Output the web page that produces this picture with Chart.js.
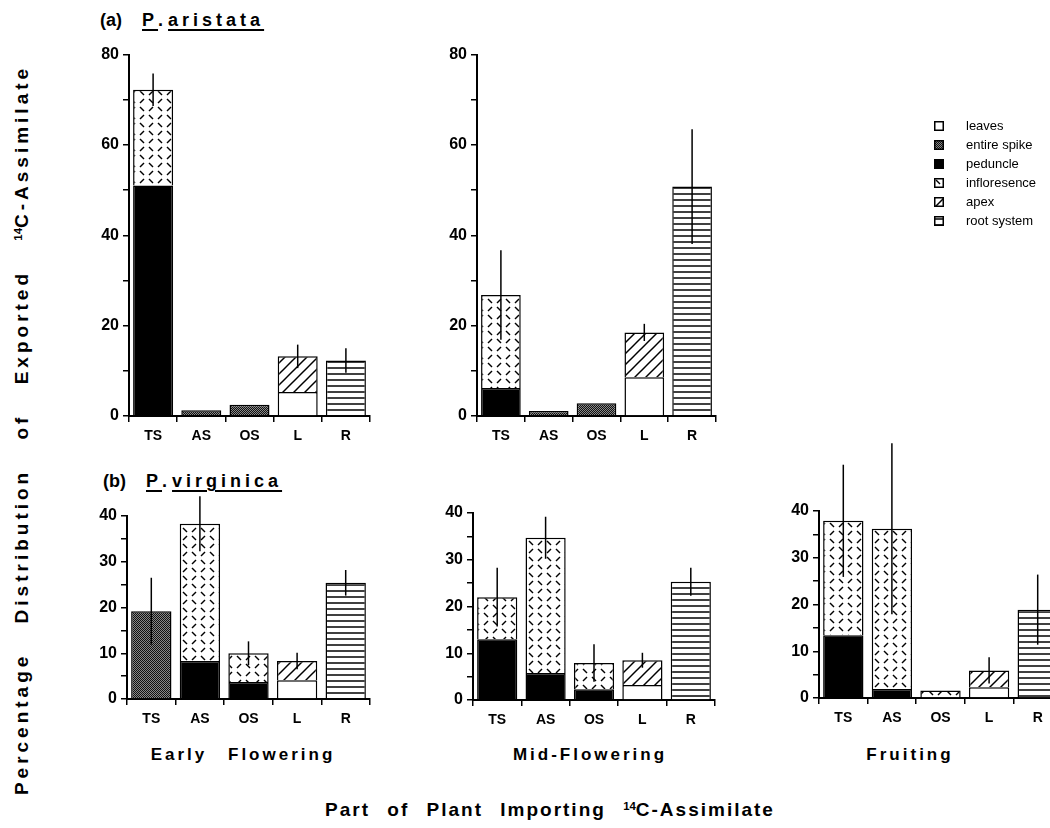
<!DOCTYPE html>
<html>
<head>
<meta charset="utf-8">
<script src="https://cdn.jsdelivr.net/npm/chart.js@4.4.0/dist/chart.umd.min.js"></script>
<style>
  html, body { margin: 0; padding: 0; background: #fff; }
  body { width: 1050px; height: 828px; position: relative; overflow: hidden;
         font-family: "Liberation Sans", Arial, sans-serif; color: #000; }
  .panel { position: absolute; }
  .txt { position: absolute; font-weight: bold; white-space: nowrap; transform: translate(-50%, -50%); }
  .title { position: absolute; font-weight: bold; font-size: 18px; white-space: nowrap; }
  .title u { text-decoration-thickness: 2px; text-underline-offset: 3px; letter-spacing: 4px; }
  sup { font-size: 60%; vertical-align: 0.5em; letter-spacing: 0; }
  #legend { position: absolute; left: 934px; top: 116px; font-size: 13px; }
  #legend div { height: 19px; display: flex; align-items: center; }
  #legend canvas { margin-right: 22px; }
</style>
</head>
<body>

<div class="title" style="left:100px; top:10px;">(a)&nbsp;&nbsp;&nbsp;&nbsp;<u>P</u>. <u>aristata</u></div>
<div class="title" style="left:103px; top:471px;">(b)&nbsp;&nbsp;&nbsp;&nbsp;<u>P</u>. <u>virginica</u></div>

<div class="panel" style="left:84px; top:41px; width:288px; height:401px;"><canvas id="aristata-early"></canvas></div>
<div class="panel" style="left:432px; top:41px; width:286px; height:401px;"><canvas id="aristata-mid"></canvas></div>
<div class="panel" style="left:82px; top:486px; width:290px; height:239px;"><canvas id="virginica-early"></canvas></div>
<div class="panel" style="left:428px; top:483px; width:289px; height:243px;"><canvas id="virginica-mid"></canvas></div>
<div class="panel" style="left:774px; top:441px; width:290px; height:283px;"><canvas id="virginica-fruit"></canvas></div>

<div id="legend"></div>

<div class="txt" style="left:243px; top:755px; font-size:17px; letter-spacing:3px; word-spacing:13px;">Early Flowering</div>
<div class="txt" style="left:590px; top:755px; font-size:17px; letter-spacing:3px;">Mid-Flowering</div>
<div class="txt" style="left:910px; top:755px; font-size:17px; letter-spacing:3px;">Fruiting</div>

<div class="txt" style="left:22px; top:430px; font-size:19px; letter-spacing:4px; word-spacing:20px; transform: translate(-50%, -50%) rotate(-90deg);">Percentage Distribution of Exported <sup>14</sup>C-Assimilate</div>
<div class="txt" style="left:550px; top:810px; font-size:19px; letter-spacing:2px; word-spacing:10px;">Part of Plant Importing <sup>14</sup>C-Assimilate</div>

<script>
// categories and series
const categories = ["TS", "AS", "OS", "L", "R"];
const seriesNames = ["leaves", "entire spike", "peduncle", "infloresence", "apex", "root system"];

// one row per series (same order as seriesNames), one column per category
// P. aristata, early flowering
const aristataEarly = [
  [null, null, null, 5.3, null],
  [null, 1.3, 2.5, null, null],
  [51, null, null, null, null],
  [21.2, null, null, null, null],
  [null, null, null, 7.9, null],
  [null, null, null, null, 12.3],
];
const aristataEarlyErr = [3.6, 0, 0, 2.6, 2.7];

// P. aristata, mid-flowering
const aristataMid = [
  [null, null, null, 8.6, null],
  [null, 1.1, 2.8, null, null],
  [6.2, null, null, null, null],
  [20.6, null, null, null, null],
  [null, null, null, 9.9, null],
  [null, null, null, null, 50.8],
];
const aristataMidErr = [9.9, 0, 0, 1.9, 12.7];

// P. virginica, early flowering
const virginicaEarly = [
  [null, null, null, 4.1, null],
  [19.2, null, null, null, null],
  [null, 8.3, 3.7, null, null],
  [null, 30, 6.3, null, null],
  [null, null, null, 4.2, null],
  [null, null, null, null, 25.4],
];
const virginicaEarlyErr = [7.3, 6, 2.6, 1.8, 2.8];

// P. virginica, mid-flowering
const virginicaMid = [
  [null, null, null, 3.2, null],
  [null, null, null, null, null],
  [13, 5.8, 2.3, null, null],
  [9, 28.9, 5.6, null, null],
  [null, null, null, 5.3, null],
  [null, null, null, null, 25.3],
];
const virginicaMidErr = [6.3, 4.5, 4, 1.6, 3];

// P. virginica, fruiting
const virginicaFruit = [
  [null, null, null, 2.3, null],
  [null, null, null, null, null],
  [13.4, 1.9, null, null, null],
  [24.5, 34.3, 1.6, null, null],
  [null, null, null, 3.6, null],
  [null, null, null, null, 18.9],
];
const virginicaFruitErr = [12, 18.3, 0, 2.8, 7.5];

const FONT = "'Liberation Sans', Arial, sans-serif";

// make a repeating fill from a small tile
function makePattern(w, h, draw) {
  const c = document.createElement("canvas");
  c.width = w;
  c.height = h;
  const g = c.getContext("2d");
  g.fillStyle = "#fff";
  g.fillRect(0, 0, w, h);
  g.strokeStyle = "#000";
  g.fillStyle = "#000";
  draw(g);
  return c.getContext("2d").createPattern(c, "repeat");
}

function line(g, x1, y1, x2, y2, lw) {
  g.lineWidth = lw;
  g.beginPath();
  g.moveTo(x1, y1);
  g.lineTo(x2, y2);
  g.stroke();
}

const patterns = [
  // leaves
  "#fff",
  // entire spike - fine stipple
  makePattern(2, 2, (g) => {
    g.fillStyle = "#111";
    g.fillRect(0, 0, 1, 1);
    g.fillRect(1, 1, 1, 1);
    g.fillStyle = "#888";
    g.fillRect(1, 0, 1, 1);
    g.fillRect(0, 1, 1, 1);
  }),
  // peduncle
  "#000",
  // infloresence - short dashes
  makePattern(18, 16, (g) => {
    line(g, 2, 2, 6, 6, 1.5);
    line(g, 11, 6, 15, 2, 1.5);
    line(g, 2, 14, 6, 10, 1.5);
    line(g, 11, 10, 15, 14, 1.5);
  }),
  // apex - diagonal lines
  makePattern(11, 11, (g) => {
    line(g, -1, 12, 12, -1, 1.5);
    line(g, -6, 6, 6, -6, 1.5);
    line(g, 5, 17, 17, 5, 1.5);
  }),
  // root system - horizontal lines
  makePattern(6, 6, (g) => {
    line(g, 0, 3, 6, 3, 1.5);
  }),
];

// vertical error line through the top of each stack
const errorBarPlugin = {
  id: "errorBars",
  afterDatasetsDraw(chart, args, opts) {
    const errs = opts.errors || [];
    const yScale = chart.scales.y;
    const ctx = chart.ctx;
    ctx.save();
    ctx.strokeStyle = "#000";
    ctx.lineWidth = 1.5;
    errs.forEach((err, i) => {
      if (!err) return;
      let total = 0;
      let x = null;
      chart.data.datasets.forEach((ds, d) => {
        const v = ds.data[i];
        if (v != null) {
          total += v;
          x = chart.getDatasetMeta(d).data[i].x;
        }
      });
      ctx.beginPath();
      ctx.moveTo(x, yScale.getPixelForValue(total + err));
      ctx.lineTo(x, yScale.getPixelForValue(total - err));
      ctx.stroke();
    });
    ctx.restore();
  },
};

function makePanel(id, rows, errs, max, step, labelEvery, padTop) {
  const datasets = rows.map((row, s) => ({
    label: seriesNames[s],
    data: row,
    backgroundColor: patterns[s],
    borderColor: "#000",
    borderWidth: 1.5,
    categoryPercentage: 1,
    barPercentage: 0.83,
  }));

  const ctx = document.getElementById(id).getContext("2d");
  return new Chart(ctx, {
    type: "bar",
    data: { labels: categories, datasets: datasets },
    plugins: [errorBarPlugin],
    options: {
      responsive: true,
      maintainAspectRatio: false,
      animation: false,
      layout: { padding: { top: padTop, right: 2, left: 0, bottom: 0 } },
      plugins: {
        legend: { display: false },
        tooltip: { enabled: false },
        errorBars: { errors: errs },
      },
      scales: {
        x: {
          stacked: true,
          grid: { drawOnChartArea: false, drawTicks: true, tickLength: 6, color: "#000", lineWidth: 1.5 },
          border: { display: true, color: "#000", width: 2 },
          ticks: { color: "#000", padding: 6, font: { family: FONT, size: 14, weight: "bold" } },
          afterFit: (s) => { s.height = 26; },
        },
        y: {
          stacked: true,
          min: 0,
          max: max,
          grid: { drawOnChartArea: false, drawTicks: true, tickLength: 6, color: "#000", lineWidth: 1.5 },
          border: { display: true, color: "#000", width: 2 },
          ticks: {
            stepSize: step,
            color: "#000",
            padding: 4,
            font: { family: FONT, size: 16, weight: "bold" },
            callback: (v) => (v % labelEvery === 0 ? v : ""),
          },
          afterFit: (s) => { s.width = 45; },
        },
      },
    },
  });
}

makePanel("aristata-early", aristataEarly, aristataEarlyErr, 80, 10, 20, 12);
makePanel("aristata-mid", aristataMid, aristataMidErr, 80, 10, 20, 12);
makePanel("virginica-early", virginicaEarly, virginicaEarlyErr, 40, 5, 10, 30);
makePanel("virginica-mid", virginicaMid, virginicaMidErr, 40, 5, 10, 30);
makePanel("virginica-fruit", virginicaFruit, virginicaFruitErr, 40, 5, 10, 70);

// legend with small swatches
const legend = document.getElementById("legend");
seriesNames.forEach((name, s) => {
  const row = document.createElement("div");
  const sw = document.createElement("canvas");
  sw.width = 10;
  sw.height = 10;
  const g = sw.getContext("2d");
  g.fillStyle = patterns[s];
  g.fillRect(0, 0, 10, 10);
  g.strokeStyle = "#000";
  g.lineWidth = 1.5;
  g.strokeRect(0.75, 0.75, 8.5, 8.5);
  const label = document.createElement("span");
  label.textContent = name;
  row.appendChild(sw);
  row.appendChild(label);
  legend.appendChild(row);
});
</script>
</body>
</html>
